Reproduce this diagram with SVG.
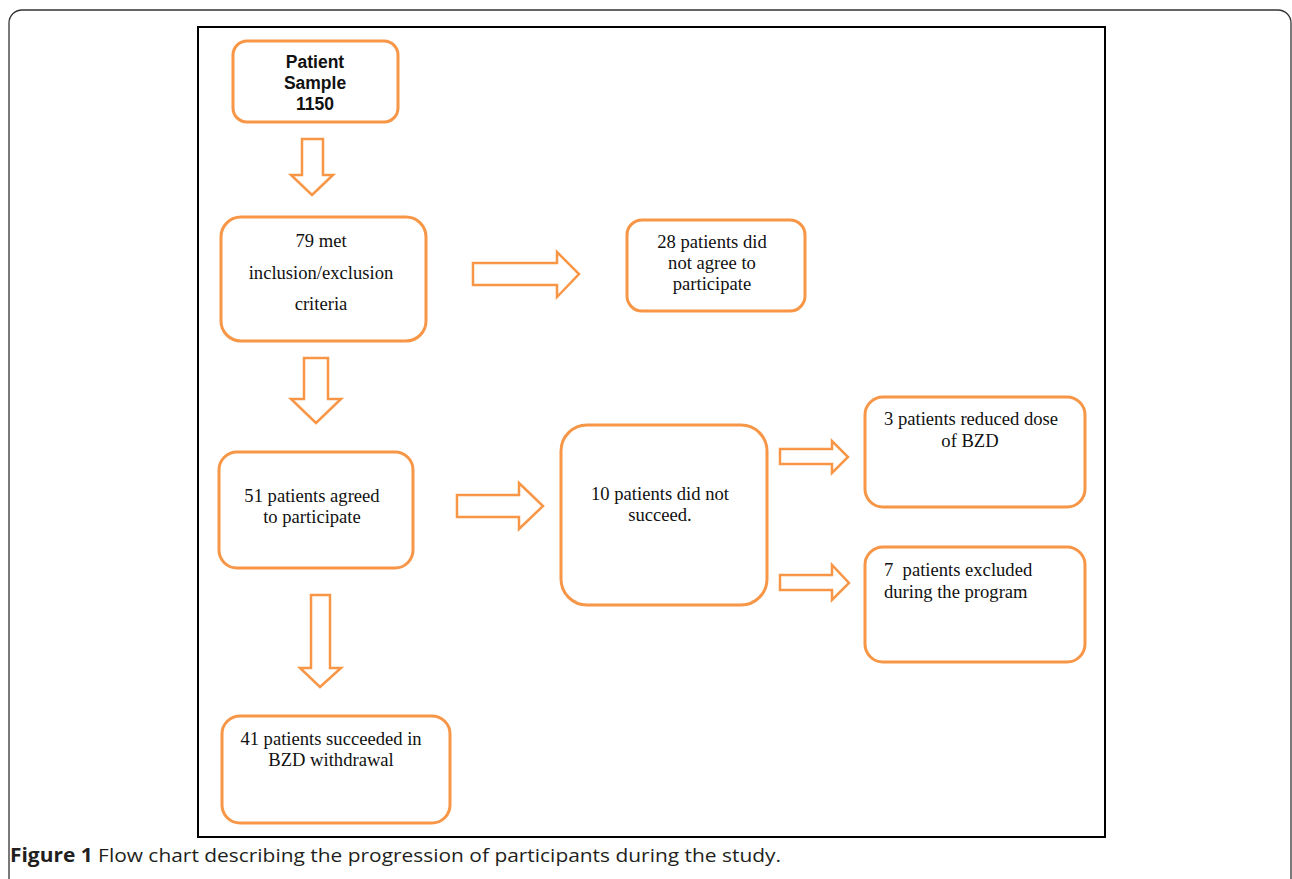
<svg xmlns="http://www.w3.org/2000/svg" width="1292" height="879" viewBox="0 0 1292 879">
<style>
.box{fill:#fff;stroke:#F79646;stroke-width:3}
.arr{fill:#fff;stroke:#F79646;stroke-width:2.5;stroke-linejoin:miter}
.t{font-family:"Liberation Serif",serif;font-size:18.6px;fill:#111}
.b{font-family:"Liberation Sans",Arial,sans-serif;font-size:17.5px;font-weight:bold;fill:#111}
.cap{font-family:"Open Sans","Liberation Sans",sans-serif;font-size:19px;fill:#231f20}
</style>
<rect x="9" y="10" width="1282" height="900" rx="13" fill="#fff" stroke="#333" stroke-width="1.3"/>
<rect x="198" y="27" width="907" height="810" fill="none" stroke="#000" stroke-width="2"/>
<g id="connectors">
<path class="arr" d="M302,139 H323 V175 H333 L312,195 L291,175 H302 Z"/>
<path class="arr" d="M304,358 H328 V399 H341 L316,423 L291,399 H304 Z"/>
<path class="arr" d="M473,263 H557 V252 L579,274 L557,297 V285 H473 Z"/>
<path class="arr" d="M311,595 H330 V668 H341 L320,687 L300,668 H311 Z"/>
<path class="arr" d="M457,495 H519 V483 L543,506 L519,529 V517 H457 Z"/>
<path class="arr" d="M780,449 H832 V441 L848,457 L832,473 V464 H780 Z"/>
<path class="arr" d="M780,575 H832 V565 L849,583 L832,600 V590 H780 Z"/>
</g>
<g id="n1">
<rect class="box" x="233" y="41" width="165" height="81" rx="14"/>
<text class="b" text-anchor="middle"><tspan x="315" y="68">Patient</tspan><tspan x="315" y="89">Sample</tspan><tspan x="315" y="110">1150</tspan></text>
</g>
<g id="n2">
<rect class="box" x="221" y="217" width="205" height="124" rx="20"/>
<text class="t" text-anchor="middle"><tspan x="321" y="247">79 met</tspan><tspan x="321" y="279">inclusion/exclusion</tspan><tspan x="321" y="310">criteria</tspan></text>
</g>
<g id="n3">
<rect class="box" x="627" y="220" width="178" height="91" rx="15"/>
<text class="t" text-anchor="middle"><tspan x="712" y="248">28 patients did</tspan><tspan x="712" y="269">not agree to</tspan><tspan x="712" y="290">participate</tspan></text>
</g>
<g id="n4">
<rect class="box" x="219" y="452" width="194" height="116" rx="18"/>
<text class="t" text-anchor="middle"><tspan x="312" y="502">51 patients agreed</tspan><tspan x="312" y="523">to participate</tspan></text>
</g>
<g id="n5">
<rect class="box" x="561" y="425" width="206" height="180" rx="26"/>
<text class="t" text-anchor="middle"><tspan x="660" y="500">10 patients did not</tspan><tspan x="660" y="521">succeed.</tspan></text>
</g>
<g id="n6">
<rect class="box" x="865" y="397" width="220" height="110" rx="18"/>
<text class="t"><tspan x="884" y="425">3 patients reduced dose</tspan><tspan x="970" y="447" text-anchor="middle">of BZD</tspan></text>
</g>
<g id="n7">
<rect class="box" x="865" y="547" width="220" height="115" rx="18"/>
<text class="t" xml:space="preserve"><tspan x="884" y="576">7  patients excluded</tspan><tspan x="884" y="598">during the program</tspan></text>
</g>
<g id="n8">
<rect class="box" x="222" y="716" width="228" height="107" rx="18"/>
<text class="t" text-anchor="middle"><tspan x="331" y="745">41 patients succeeded in</tspan><tspan x="331" y="766">BZD withdrawal</tspan></text>
</g>
<text class="cap" x="10" y="862" textLength="771" lengthAdjust="spacingAndGlyphs"><tspan font-weight="bold">Figure 1</tspan> Flow chart describing the progression of participants during the study.</text>
</svg>
